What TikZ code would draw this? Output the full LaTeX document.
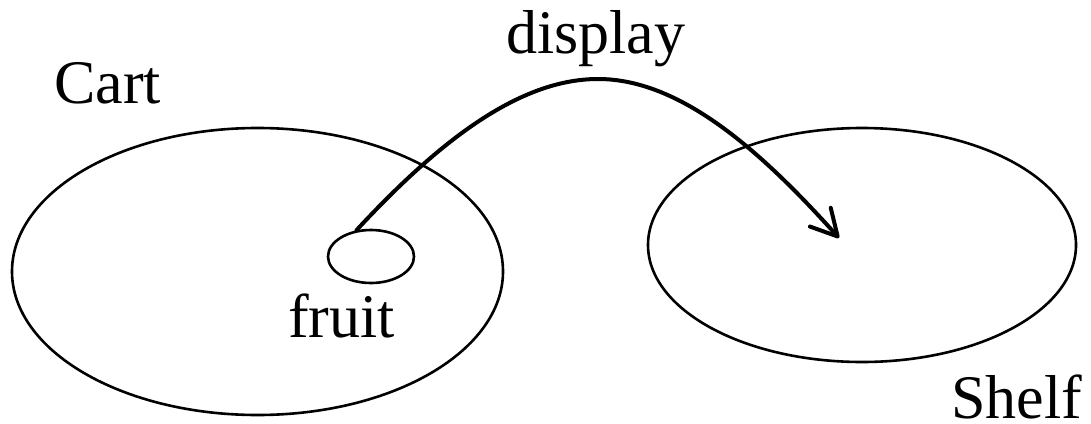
\documentclass[tikz,border=0pt]{standalone}
\usepackage{fontspec}
\setmainfont{Liberation Serif}
\usetikzlibrary{shapes.geometric,arrows.meta}

\tikzset{
  setshape/.style={draw, ellipse, line width=2.6pt, inner sep=0pt},
  label text/.style={font=\fontsize{62}{70}\selectfont, inner sep=0pt, anchor=base west},
  relation/.style={line width=4pt, line cap=round,
    -{Straight Barb[length=26pt,width=28pt,line cap=round,line join=round]}}
}

\begin{document}
\begin{tikzpicture}[x=1pt, y=-1pt]
  \useasboundingbox (0,0) rectangle (1091,423);

  % the two sets and the element inside the first one
  \node[setshape, minimum width=491pt, minimum height=287pt] (cart) at (257.5,271.5) {};
  \node[setshape, minimum width=428pt, minimum height=234pt] (shelf) at (862,245) {};
  \node[setshape, minimum width=86pt, minimum height=53pt] (fruit) at (371,256.5) {};

  % labels
  \node[label text] (cartlabel) at (54,103) {Cart};
  \node[label text] (fruitlabel) at (288,337) {fruit};
  \node[label text] (shelflabel) at (951,418) {Shelf};
  \node[label text] (displaylabel) at (506,53) {display};

  % the mapping from the element into the shelf
  \coordinate (target) at (839,238);
  \draw[relation] (fruit.119) .. controls (440,140) and (520,79) .. (598,79)
                              .. controls (680,79) and (760,150) .. (target);
\end{tikzpicture}
\end{document}
